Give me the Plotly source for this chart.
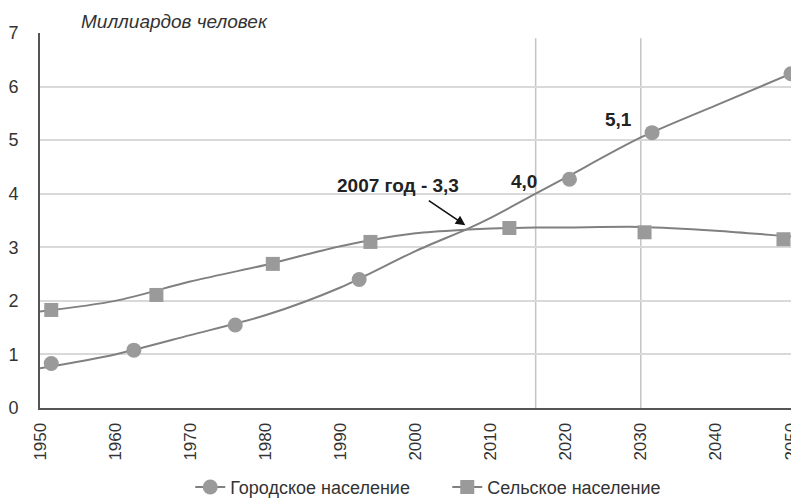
import plotly.graph_objects as go

# ---- data ----
line_years = [1950, 1960, 1970, 1980, 1990, 2000, 2007, 2010, 2016, 2020, 2030, 2040, 2050]
urban_line = [0.74, 1.00, 1.36, 1.73, 2.25, 2.93, 3.35, 3.55, 4.00, 4.30, 5.05, 5.65, 6.24]
rural_line = [1.80, 2.00, 2.36, 2.67, 3.02, 3.26, 3.33, 3.35, 3.37, 3.37, 3.38, 3.31, 3.20]

urban_mark_years = [1951.5, 1962.5, 1976, 1992.5, 2020.5, 2031.5, 2050]
urban_mark_vals = [0.83, 1.08, 1.55, 2.40, 4.27, 5.14, 6.24]
rural_mark_years = [1951.5, 1965.5, 1981, 1994, 2012.5, 2030.5, 2049]
rural_mark_vals = [1.83, 2.11, 2.69, 3.10, 3.36, 3.28, 3.15]

x_ticks = [1950, 1960, 1970, 1980, 1990, 2000, 2010, 2020, 2030, 2040, 2050]
y_ticks = [0, 1, 2, 3, 4, 5, 6, 7]

marked_years = [2016, 2030]
marked_vals = [4.0, 5.1]
marked_texts = ["4,0", "5,1"]

cross_year = 2007.3
cross_val = 3.35
cross_text = "2007 год - 3,3"

series_names = ["Городское население", "Сельское население"]
y_title = "Миллиардов человек"

FONT = "Arial, Liberation Sans, sans-serif"
LINE_C = "#808080"
MARK_C = "#9a9a9a"

fig = go.Figure()

# smooth lines
fig.add_trace(go.Scatter(x=line_years, y=urban_line, mode="lines",
                         line=dict(color=LINE_C, width=2, shape="spline", smoothing=0.8),
                         showlegend=False, hoverinfo="skip", cliponaxis=False))
fig.add_trace(go.Scatter(x=line_years, y=rural_line, mode="lines",
                         line=dict(color=LINE_C, width=2, shape="spline", smoothing=0.8),
                         showlegend=False, hoverinfo="skip", cliponaxis=False))
# markers
fig.add_trace(go.Scatter(x=urban_mark_years, y=urban_mark_vals, mode="markers",
                         marker=dict(symbol="circle", size=15, color=MARK_C),
                         showlegend=False, cliponaxis=False))
fig.add_trace(go.Scatter(x=rural_mark_years, y=rural_mark_vals, mode="markers",
                         marker=dict(symbol="square", size=14, color=MARK_C),
                         showlegend=False, cliponaxis=False))
# legend entries
fig.add_trace(go.Scatter(x=[None], y=[None], mode="lines+markers", name=series_names[0],
                         line=dict(color=LINE_C, width=2),
                         marker=dict(symbol="circle", size=15, color=MARK_C)))
fig.add_trace(go.Scatter(x=[None], y=[None], mode="lines+markers", name=series_names[1],
                         line=dict(color=LINE_C, width=2),
                         marker=dict(symbol="square", size=14, color=MARK_C)))

shapes = []
for yr in marked_years:
    shapes.append(dict(type="line", xref="x", yref="y", x0=yr, x1=yr, y0=-0.06, y1=6.9,
                       line=dict(color="#c4c4c4", width=1.5), layer="below"))

annotations = [
    dict(text="<i>" + y_title + "</i>", xref="paper", yref="paper", x=0.051, y=1.03,
         xanchor="left", yanchor="middle", showarrow=False,
         font=dict(family=FONT, size=19, color="#333333")),
    dict(text="<b>" + cross_text + "</b>", xref="x", yref="y", x=1997.7, y=4.16,
         xanchor="center", yanchor="middle", showarrow=False,
         font=dict(family=FONT, size=19, color="#222222")),
    dict(text="", xref="x", yref="y", x=cross_year, y=cross_val, ax=-43, ay=-29,
         axref="pixel", ayref="pixel", showarrow=True, arrowhead=2, arrowsize=1.2,
         arrowwidth=1.6, arrowcolor="#111111", standoff=6),
]
shifts = [(3, 0), (-7, 3)]
for yr, v, t, (dx, dy) in zip(marked_years, marked_vals, marked_texts, shifts):
    annotations.append(dict(text="<b>" + t + "</b>", xref="x", yref="y", x=yr, y=v,
                            xanchor="right", yanchor="bottom", xshift=dx, yshift=dy,
                            showarrow=False,
                            font=dict(family=FONT, size=19, color="#222222")))

# the page body has an 8px margin, so the figure is sized/offset to compensate
fig.update_layout(
    width=799, height=492,
    template="none",
    margin=dict(l=32, r=10, t=25, b=92, autoexpand=False),
    paper_bgcolor="white", plot_bgcolor="white",
    font=dict(family=FONT, color="#333333"),
    shapes=shapes, annotations=annotations,
    legend=dict(orientation="h", x=0.1985, xanchor="left", y=-0.162, yanchor="top",
                entrywidth=212, entrywidthmode="pixels",
                font=dict(family=FONT, size=18, color="#333333")),
    xaxis=dict(range=[1950, 2050.8], tickmode="array", tickvals=x_ticks,
               tickangle=-90, tickfont=dict(family=FONT, size=17, color="#333333"),
               showgrid=False, zeroline=False, showline=True, linecolor="#555555",
               linewidth=2, ticks="", ticklabelstandoff=6, automargin=False,
               ticklabeloverflow="allow"),
    yaxis=dict(range=[0, 7], tickmode="array", tickvals=y_ticks,
               tickfont=dict(family=FONT, size=18, color="#333333"),
               showgrid=True, gridcolor="#d9d9d9", gridwidth=1.5, zeroline=False,
               showline=True, linecolor="#555555", linewidth=2, ticks="",
               ticklabelstandoff=16, automargin=False),
)

fig.write_html("out.html")
